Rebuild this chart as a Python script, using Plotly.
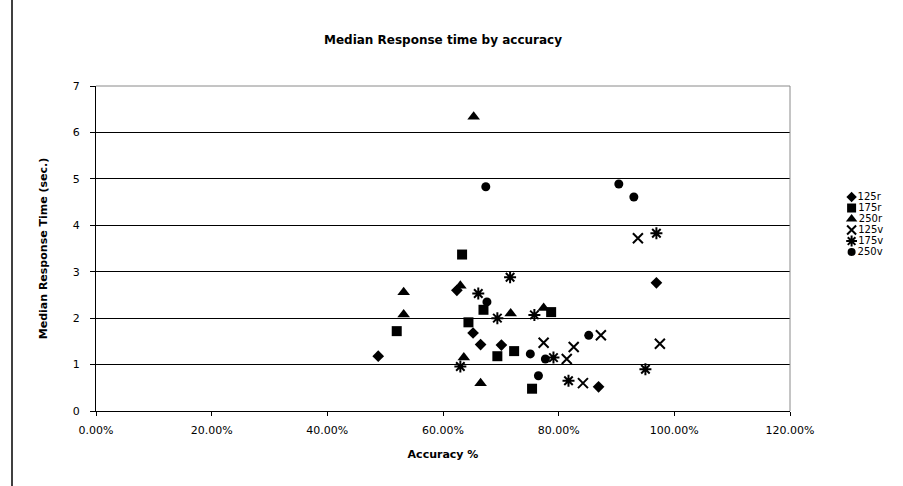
import plotly.graph_objects as go

# Accuracy (fraction) and median response time (sec.) per condition
acc_125r = [0.488, 0.624, 0.652, 0.665, 0.701, 0.869, 0.969]
rt_125r = [1.18, 2.60, 1.68, 1.43, 1.42, 0.52, 2.76]

acc_175r = [0.520, 0.633, 0.644, 0.670, 0.694, 0.723, 0.754, 0.787]
rt_175r = [1.72, 3.37, 1.91, 2.18, 1.18, 1.29, 0.48, 2.13]

acc_250r = [0.532, 0.532, 0.630, 0.636, 0.653, 0.665, 0.717, 0.774]
rt_250r = [2.56, 2.08, 2.70, 1.15, 6.34, 0.60, 2.10, 2.22]

acc_125v = [0.774, 0.814, 0.826, 0.842, 0.873, 0.937, 0.975]
rt_125v = [1.47, 1.12, 1.38, 0.60, 1.63, 3.72, 1.45]

acc_175v = [0.630, 0.661, 0.694, 0.716, 0.758, 0.791, 0.817, 0.950, 0.969]
rt_175v = [0.96, 2.53, 2.00, 2.88, 2.07, 1.15, 0.65, 0.90, 3.83]

acc_250v = [0.674, 0.676, 0.751, 0.765, 0.777, 0.852, 0.904, 0.930]
rt_250v = [4.83, 2.35, 1.23, 0.76, 1.12, 1.63, 4.89, 4.61]

series_names = ["125r", "175r", "250r", "125v", "175v", "250v"]
series_x = [acc_125r, acc_175r, acc_250r, acc_125v, acc_175v, acc_250v]
series_y = [rt_125r, rt_175r, rt_250r, rt_125v, rt_175v, rt_250v]

# marker style per series: symbol, size, drawn as outline strokes
styles = [
    ("diamond", 9, False),
    ("square", 10, False),
    ("triangle-up", 11, False),
    ("x-thin-open", 10, True),
    ("asterisk-open", 10, True),
    ("circle", 9, False),
]

FONT = "DejaVu Sans"
W, H = 903, 486
ML, MR, MT, MB = 96, 3, 86, 75
PW = W - ML - MR                     # paper width in px
PLOT_RIGHT = 790                     # right edge of the plotting area
X_DOMAIN_END = (PLOT_RIGHT - ML) / PW


def make_marker(sym, size, is_line):
    m = dict(symbol=sym, size=size, color="black")
    m["line"] = dict(color="black", width=2) if is_line else dict(width=0)
    return m


fig = go.Figure()
for name, xs, ys, (sym, size, is_line) in zip(series_names, series_x, series_y, styles):
    fig.add_trace(go.Scatter(x=xs, y=ys, mode="markers", name=name,
                             marker=make_marker(sym, size, is_line),
                             showlegend=False, xaxis="x", yaxis="y"))

# compact legend drawn on its own small axis to the right of the plot
for i, (name, (sym, size, is_line)) in enumerate(zip(series_names, styles)):
    fig.add_trace(go.Scatter(x=[0.12], y=[i], mode="markers+text", text=[name],
                             textposition="middle right",
                             textfont=dict(family=FONT, size=10, color="black"),
                             marker=make_marker(sym, size - 1, is_line),
                             showlegend=False, hoverinfo="skip",
                             xaxis="x2", yaxis="y2", cliponaxis=False))

fig.update_layout(
    width=W,
    height=H,
    autosize=False,
    margin=dict(l=ML, r=MR, t=MT, b=MB, autoexpand=False),
    paper_bgcolor="white",
    plot_bgcolor="white",
    font=dict(family=FONT, color="black", size=10),
    title=dict(
        text="<b>Median Response time by accuracy</b>",
        x=(443 - ML) / PW, xref="paper", xanchor="center", y=0.918, yanchor="middle",
        font=dict(family=FONT, size=12, color="black"),
    ),
    showlegend=False,
    xaxis=dict(
        domain=[0, X_DOMAIN_END],
        range=[0, 1.2], dtick=0.2, tick0=0, tickformat=".2%",
        showgrid=False, zeroline=False, automargin=False,
        showline=True, linecolor="black", linewidth=1,
        ticks="outside", ticklen=4, tickcolor="black",
        ticklabelstandoff=5,
        tickfont=dict(family=FONT, size=11),
        title=dict(text="<b>Accuracy %</b>", font=dict(family=FONT, size=11), standoff=14),
    ),
    yaxis=dict(
        range=[0, 7], dtick=1, tick0=0, automargin=False,
        showgrid=True, gridcolor="black", gridwidth=1, zeroline=False,
        showline=True, linecolor="black", linewidth=1,
        ticks="outside", ticklen=5, tickcolor="black",
        ticklabelstandoff=8,
        tickfont=dict(family=FONT, size=11),
        title=dict(text="<b>Median Response Time (sec.)</b>", font=dict(family=FONT, size=11), standoff=22),
    ),
    xaxis2=dict(domain=[(845 - ML) / PW, 1], range=[0, 1], visible=False, fixedrange=True),
    yaxis2=dict(domain=[0, 1], range=[19.45, -10.09], visible=False, fixedrange=True, anchor="x2"),
)

# light frame on the top and right of the plotting area
fig.add_shape(type="line", xref="x domain", yref="y domain", x0=0, x1=1, y0=1, y1=1,
              line=dict(color="#8a8a8a", width=1), layer="above")
fig.add_shape(type="line", xref="x domain", yref="y domain", x0=1, x1=1, y0=0, y1=1,
              line=dict(color="#8a8a8a", width=1), layer="above")
# outer chart border on the left
fig.add_shape(type="line", xref="paper", yref="paper",
              x0=(12 - ML) / PW, x1=(12 - ML) / PW, y0=-0.3, y1=1.4,
              line=dict(color="black", width=1.5))

fig.write_html("out.html")
